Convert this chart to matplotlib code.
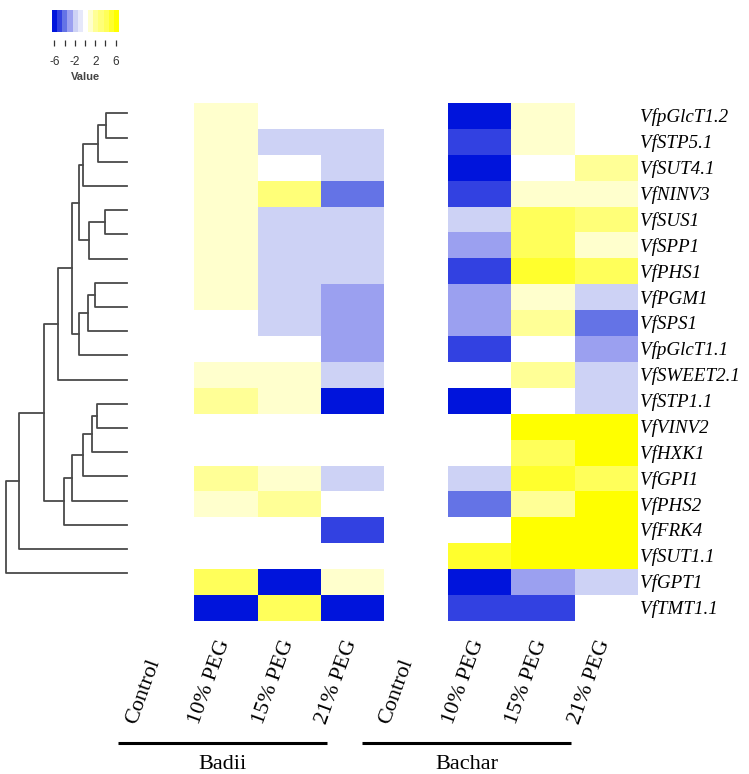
import numpy as np
import matplotlib.pyplot as plt
from matplotlib.colors import ListedColormap, BoundaryNorm

genes = ["VfpGlcT1.2", "VfSTP5.1", "VfSUT4.1", "VfNINV3", "VfSUS1", "VfSPP1",
         "VfPHS1", "VfPGM1", "VfSPS1", "VfpGlcT1.1", "VfSWEET2.1", "VfSTP1.1",
         "VfVINV2", "VfHXK1", "VfGPI1", "VfPHS2", "VfFRK4", "VfSUT1.1",
         "VfGPT1", "VfTMT1.1"]
conditions = ["Control", "10% PEG", "15% PEG", "21% PEG"]
cultivars = ["Badii", "Bachar"]

# log2 fold change vs control
badii_ctrl = [0, 0, 0, 0, 0, 0, 0, 0, 0, 0, 0, 0, 0, 0, 0, 0, 0, 0, 0, 0]
badii_10 = [1, 1, 1, 1, 1, 1, 1, 1, 0, 0, 1, 2, 0, 0, 2, 1, 0, 0, 4, -6]
badii_15 = [0, -2, 0, 3, -2, -2, -2, -2, -2, 0, 1, 1, 0, 0, 1, 2, 0, 0, -6, 4]
badii_21 = [0, -2, -2, -4, -2, -2, -2, -3, -3, -3, -2, -6, 0, 0, -2, 0, -5, 0, 1, -6]
bachar_ctrl = [0, 0, 0, 0, 0, 0, 0, 0, 0, 0, 0, 0, 0, 0, 0, 0, 0, 0, 0, 0]
bachar_10 = [-6, -5, -6, -5, -2, -3, -5, -3, -3, -5, 0, -6, 0, 0, -2, -4, 0, 5, -6, -5]
bachar_15 = [1, 1, 0, 1, 4, 4, 5, 1, 2, 0, 2, 0, 6, 4, 5, 2, 6, 6, -3, -5]
bachar_21 = [0, 0, 2, 1, 3, 1, 4, -2, -4, -3, -2, -2, 6, 6, 4, 6, 6, 6, -2, 0]

# dendrogram merges: (child a, child b, height); leaves 0-19, nodes 20+
merges = [
    (0, 1, 21.0), (20, 2, 29.3), (21, 3, 43.7),
    (4, 5, 21.7), (23, 6, 37.7), (22, 24, 48.3),
    (7, 8, 32.0), (26, 9, 39.3), (27, 10, 48.3),
    (25, 28, 55.0), (29, 11, 68.7),
    (12, 13, 29.7), (31, 14, 35.3), (32, 15, 43.7), (33, 16, 54.7), (34, 17, 62.7),
    (30, 35, 82.7), (36, 18, 108.0), (37, 19, 121.0),
]

W, H = 749, 774
fig = plt.figure(figsize=(W / 100, H / 100), dpi=100)


def px_axes(x0, y0, x1, y1):
    return fig.add_axes([x0 / W, 1 - y1 / H, (x1 - x0) / W, (y1 - y0) / H])


colors = ["#0014DC", "#3241E1", "#6473E6", "#9BA0F0", "#CDD2F5", "#E6E8FA", "#FFFFFF",
          "#FFFFCD", "#FFFF96", "#FFFF78", "#FFFF5A", "#FFFF2D", "#FFFF00"]
cmap = ListedColormap(colors)
bounds = np.arange(-6.5, 7.0, 1.0)
norm = BoundaryNorm(bounds, cmap.N)

serif = "Liberation Serif"
sans = "Liberation Sans"

# heatmap
data = np.array([badii_ctrl, badii_10, badii_15, badii_21,
                 bachar_ctrl, bachar_10, bachar_15, bachar_21]).T
ax = px_axes(131, 103.3, 637.7, 620.7)
ax.imshow(data, cmap=cmap, norm=norm, aspect="auto", interpolation="nearest")
ax.set_xticks([])
ax.set_yticks([])
for s in ax.spines.values():
    s.set_visible(False)
for i, g in enumerate(genes):
    ax.text(7.53, i + 0.05, g, fontsize=13.7, family=serif, style="italic",
            va="center", ha="left")

col_labels = conditions + conditions
for j, lab in enumerate(col_labels):
    ax.text(j - 0.42, 23.55, lab, fontsize=16, family=serif, rotation=70,
            rotation_mode="anchor", ha="left", va="baseline")

# cultivar lines and names
line_start = [-0.7, 3.15]
line_end = [2.6, 6.45]
for k, cv in enumerate(cultivars):
    ax.plot([line_start[k], line_end[k]], [24.23, 24.23], color="black", lw=2.2,
            clip_on=False, solid_capstyle="butt")
    ax.text((line_start[k] + line_end[k]) / 2, 25.07, cv, fontsize=16,
            family=serif, ha="center", va="center")
ax.set_xlim(-0.5, 7.5)
ax.set_ylim(19.5, -0.5)

# dendrogram
dax = px_axes(6, 113.3, 127, 573.3)
ypos = {i: float(i) for i in range(len(genes))}
hgt = {i: 0.0 for i in range(len(genes))}
for n, (a, b, h) in enumerate(merges):
    node = len(genes) + n
    dax.plot([hgt[a], h, h, hgt[b]], [ypos[a], ypos[a], ypos[b], ypos[b]],
             color="#4a4a4a", lw=1.3, clip_on=False)
    ypos[node] = (ypos[a] + ypos[b]) / 2
    hgt[node] = h
dax.set_xlim(121, 0)
dax.set_ylim(19, 0)
dax.axis("off")

# colour key
cax = px_axes(51.7, 10, 118.3, 32)
levels = np.arange(-6, 7)
cax.imshow(levels[np.newaxis, :], cmap=cmap, norm=norm, aspect="auto",
           extent=(-6.5, 6.5, 0, 1), interpolation="nearest")
cax.set_yticks([])
for s in cax.spines.values():
    s.set_visible(False)
cax.spines["bottom"].set_position(("outward", 5.5))
cax.set_xticks([-6, -4, -2, 0, 2, 4, 6])
cax.set_xticklabels(["-6", "", "-2", "", "2", "", "6"])
cax.tick_params(axis="x", length=4.5, width=0.9, pad=7, labelsize=8.5,
                colors="#333333")
for t in cax.get_xticklabels():
    t.set_family(sans)
cax.set_xlabel("Value", fontsize=8, family=sans, fontweight="bold",
               color="#444444", labelpad=3)

fig.savefig("out.png", dpi=100)
